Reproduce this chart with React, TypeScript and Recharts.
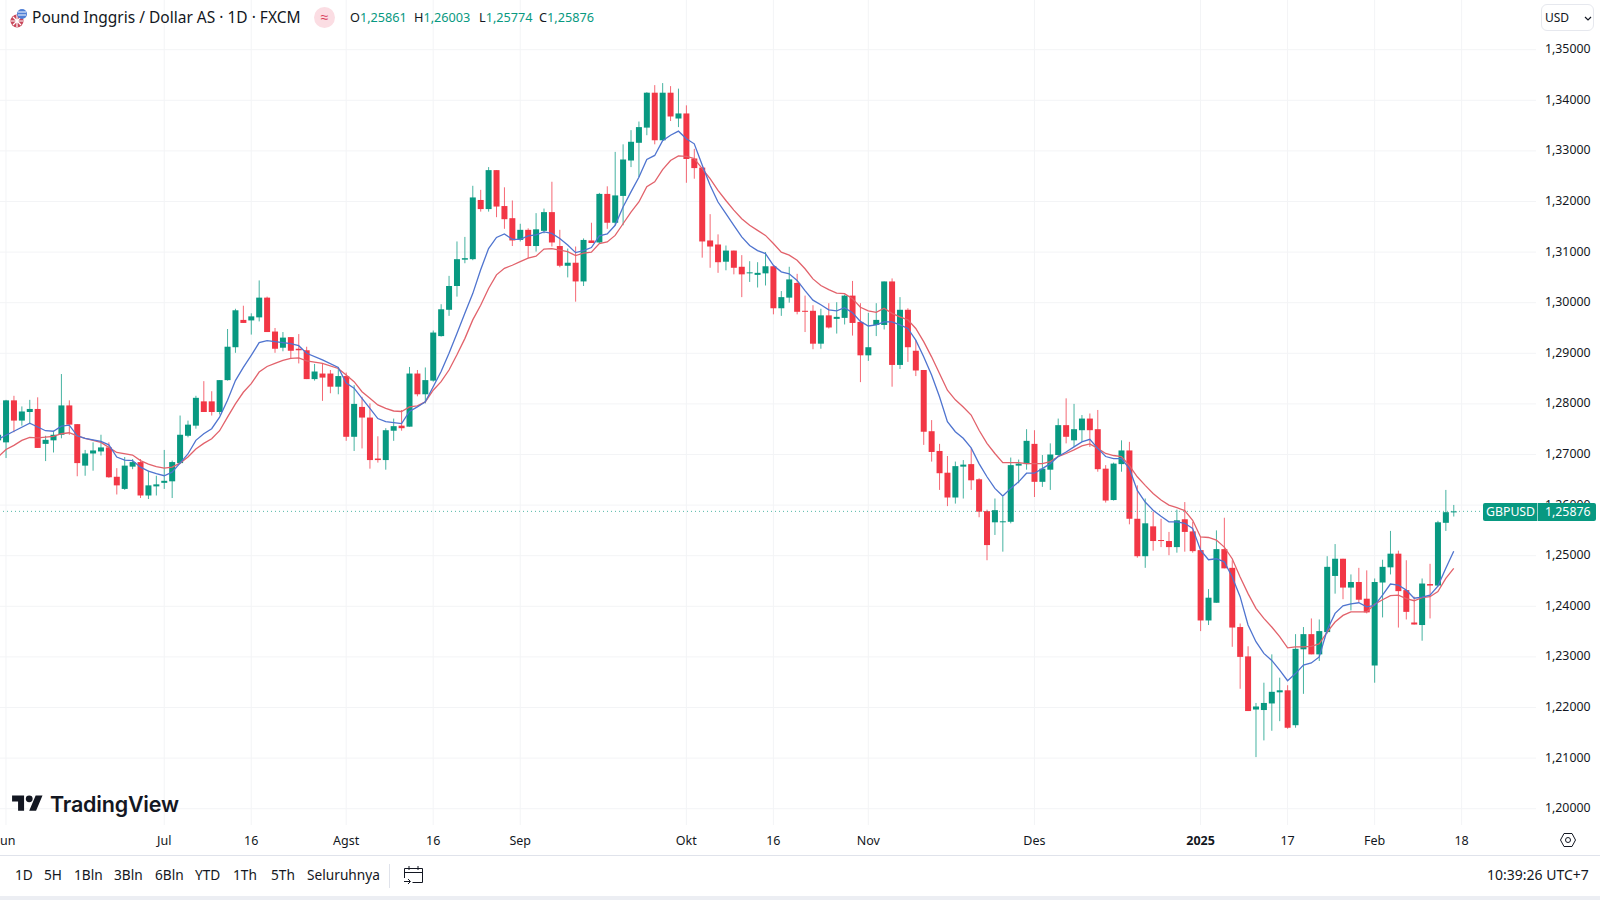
import { Bar, CartesianGrid, ComposedChart, Line, ReferenceLine, XAxis, YAxis } from "recharts";

const UP = "#089981";
const DOWN = "#F23645";
const FONT = "'Noto Sans', sans-serif";
const TEXT = "#131722";

const firstIndex = -1;

const opens = [
  1.2728,
  1.2724, 1.2807, 1.2767, 1.2784, 1.279, 1.2721, 1.2728, 1.2739, 1.2797, 1.276,
  1.2678, 1.2702, 1.2706, 1.2714, 1.2656, 1.2632, 1.2676, 1.2685, 1.2619, 1.2637,
  1.2644, 1.2647, 1.2683, 1.2737, 1.2757, 1.2805, 1.2805, 1.2784, 1.2847, 1.2912,
  1.2966, 1.2965, 1.2971, 1.301, 1.2943, 1.2911, 1.2932, 1.2909, 1.2906, 1.2849,
  1.286, 1.286, 1.2834, 1.2855, 1.2735, 1.2794, 1.2773, 1.2692, 1.2689, 1.2747,
  1.2757, 1.2755, 1.286, 1.2819, 1.2846, 1.2934, 1.2986, 1.3033, 1.3085, 1.3086,
  1.3203, 1.3185, 1.3262, 1.3191, 1.3167, 1.3124, 1.3144, 1.3112, 1.3142, 1.3179,
  1.3112, 1.3073, 1.3079, 1.3042, 1.3123, 1.3119, 1.3215, 1.3158, 1.3211, 1.3281,
  1.3316, 1.3346, 1.3415, 1.3321, 1.3415, 1.3364, 1.3374, 1.3285, 1.3267, 1.3123,
  1.3115, 1.3081, 1.3103, 1.3071, 1.3058, 1.3055, 1.3058, 1.3072, 1.2989, 1.301,
  1.3039, 1.2984, 1.2984, 1.2919, 1.2975, 1.2968, 1.297, 1.3014, 1.2962, 1.2896,
  1.2956, 1.2956, 1.3042, 1.2877, 1.2986, 1.2905, 1.2867, 1.2746, 1.2707, 1.2664,
  1.2615, 1.2676, 1.2681, 1.2651, 1.2588, 1.2566, 1.2567, 1.2567, 1.2678, 1.2681,
  1.2721, 1.2646, 1.267, 1.2699, 1.2758, 1.2728, 1.2748, 1.2771, 1.275, 1.2672,
  1.261, 1.2681, 1.2708, 1.2573, 1.2499, 1.2558, 1.2531, 1.2529, 1.2517, 1.2572,
  1.2548, 1.2511, 1.2372, 1.2407, 1.2513, 1.2476, 1.2359, 1.2301, 1.2196, 1.2195,
  1.2208, 1.223, 1.2234, 1.2165, 1.2315, 1.2345, 1.2305, 1.2349, 1.246, 1.2494,
  1.2437, 1.2448, 1.2415, 1.2283, 1.2447, 1.2477, 1.2504, 1.2432, 1.2368, 1.2363,
  1.2444, 1.2441, 1.2565, 1.25861,
];

const highs = [
  1.2751,
  1.2808, 1.2816, 1.2795, 1.2808, 1.2813, 1.2737, 1.2747, 1.2859, 1.2807, 1.276,
  1.2709, 1.2724, 1.2739, 1.2724, 1.2673, 1.2695, 1.2691, 1.2691, 1.2668, 1.2658,
  1.2709, 1.2688, 1.2777, 1.2767, 1.2816, 1.2845, 1.2825, 1.2847, 1.2948, 1.2988,
  1.2994, 1.2979, 1.3044, 1.3012, 1.295, 1.2942, 1.2932, 1.2938, 1.2913, 1.2879,
  1.288, 1.2867, 1.2873, 1.2862, 1.2837, 1.2814, 1.2801, 1.2736, 1.2752, 1.2771,
  1.2788, 1.2873, 1.2867, 1.2872, 1.2945, 1.2997, 1.3053, 1.3121, 1.313, 1.3231,
  1.3223, 1.3268, 1.3262, 1.3228, 1.3202, 1.3156, 1.3147, 1.3177, 1.3186, 1.3239,
  1.3144, 1.3107, 1.3111, 1.3127, 1.3158, 1.3217, 1.323, 1.3298, 1.3313, 1.3341,
  1.3358, 1.3416, 1.343, 1.3434, 1.3428, 1.3423, 1.339, 1.3304, 1.3268, 1.3175,
  1.3135, 1.3113, 1.3103, 1.3094, 1.3082, 1.308, 1.31, 1.3073, 1.3023, 1.3071,
  1.3057, 1.3014, 1.2995, 1.2988, 1.2999, 1.3001, 1.3016, 1.3043, 1.2999, 1.298,
  1.2999, 1.3042, 1.3048, 1.3011, 1.2989, 1.2926, 1.2867, 1.2768, 1.2721, 1.2697,
  1.2686, 1.2689, 1.2712, 1.2653, 1.2591, 1.2613, 1.2616, 1.2694, 1.269, 1.275,
  1.2748, 1.2699, 1.2722, 1.2771, 1.2811, 1.28, 1.2778, 1.2781, 1.2788, 1.2679,
  1.2684, 1.2728, 1.2725, 1.2639, 1.2613, 1.2587, 1.2573, 1.2547, 1.2591, 1.2606,
  1.2567, 1.2537, 1.2434, 1.255, 1.2575, 1.2491, 1.2366, 1.2321, 1.2209, 1.2249,
  1.2305, 1.2259, 1.2244, 1.2345, 1.2359, 1.2376, 1.2374, 1.2499, 1.2523, 1.2494,
  1.2463, 1.2476, 1.2471, 1.2455, 1.2492, 1.2549, 1.251, 1.2491, 1.2419, 1.2455,
  1.2484, 1.2569, 1.263, 1.26003,
];

const lows = [
  1.2714,
  1.2693, 1.2744, 1.2757, 1.276, 1.2713, 1.2687, 1.2704, 1.2732, 1.2739, 1.2657,
  1.2658, 1.2668, 1.2698, 1.2654, 1.2621, 1.263, 1.2671, 1.2614, 1.2612, 1.2619,
  1.2632, 1.2614, 1.2681, 1.2734, 1.2751, 1.2784, 1.2777, 1.2779, 1.2846, 1.2901,
  1.296, 1.2937, 1.2963, 1.2942, 1.2901, 1.2904, 1.2889, 1.288, 1.2849, 1.2846,
  1.2806, 1.2821, 1.2819, 1.2727, 1.2707, 1.2712, 1.2672, 1.2684, 1.267, 1.2727,
  1.2747, 1.2755, 1.2815, 1.2801, 1.2844, 1.2933, 1.2974, 1.3012, 1.3078, 1.3084,
  1.318, 1.318, 1.3169, 1.3146, 1.3112, 1.3121, 1.3088, 1.3101, 1.3137, 1.3111,
  1.307, 1.305, 1.3002, 1.3033, 1.3118, 1.3117, 1.3146, 1.3153, 1.3153, 1.3268,
  1.3248, 1.3331, 1.3313, 1.332, 1.3359, 1.3347, 1.3237, 1.3245, 1.3089, 1.3069,
  1.3059, 1.3064, 1.3056, 1.3011, 1.3041, 1.303, 1.3034, 1.2977, 1.2974, 1.3,
  1.2977, 1.2942, 1.2908, 1.2909, 1.2949, 1.2939, 1.2957, 1.2935, 1.2843, 1.2885,
  1.2934, 1.2947, 1.2834, 1.2869, 1.2883, 1.2855, 1.2719, 1.2686, 1.263, 1.2598,
  1.2603, 1.2613, 1.263, 1.2576, 1.2491, 1.2541, 1.2508, 1.2564, 1.2643, 1.267,
  1.2616, 1.2636, 1.263, 1.2696, 1.2722, 1.2715, 1.2725, 1.2715, 1.2666, 1.2605,
  1.2609, 1.2666, 1.2562, 1.2496, 1.2476, 1.251, 1.2517, 1.2501, 1.2506, 1.2508,
  1.2506, 1.2351, 1.2363, 1.2407, 1.2475, 1.232, 1.2237, 1.2193, 1.2102, 1.2135,
  1.2154, 1.2173, 1.2158, 1.216, 1.2227, 1.2305, 1.2292, 1.2346, 1.2425, 1.2414,
  1.2392, 1.2407, 1.2386, 1.2249, 1.2378, 1.2463, 1.2358, 1.2374, 1.2364, 1.2332,
  1.2376, 1.2439, 1.2549, 1.25774,
];

const closes = [
  1.2739,
  1.2807, 1.2767, 1.2785, 1.279, 1.2713, 1.2729, 1.2739, 1.2797, 1.2759, 1.2683,
  1.2702, 1.2708, 1.2714, 1.2655, 1.2639, 1.2678, 1.2685, 1.2619, 1.2639, 1.2641,
  1.2648, 1.2685, 1.2739, 1.2759, 1.2812, 1.2784, 1.2784, 1.2847, 1.2913, 1.2985,
  1.296, 1.2973, 1.301, 1.2942, 1.2909, 1.2931, 1.2905, 1.2906, 1.2849, 1.2864,
  1.2852, 1.2834, 1.2855, 1.2735, 1.28, 1.2773, 1.2689, 1.2689, 1.2748, 1.2756,
  1.2752, 1.286, 1.2819, 1.2847, 1.2941, 1.2987, 1.3033, 1.3086, 1.3088, 1.3208,
  1.3185, 1.3262, 1.319, 1.3165, 1.3123, 1.3144, 1.3112, 1.3145, 1.3179, 1.3119,
  1.3073, 1.3079, 1.3042, 1.3124, 1.3118, 1.3215, 1.3158, 1.3212, 1.3283, 1.3318,
  1.3347, 1.3415, 1.3321, 1.3415, 1.3368, 1.3374, 1.3284, 1.3266, 1.3121, 1.3111,
  1.308, 1.3103, 1.3069, 1.3056, 1.306, 1.3059, 1.3072, 1.2989, 1.3011, 1.3046,
  1.2982, 1.2982, 1.2919, 1.2975, 1.2951, 1.2972, 1.3014, 1.296, 1.2896, 1.2912,
  1.2966, 1.3042, 1.2877, 1.2986, 1.2912, 1.2866, 1.2745, 1.2705, 1.2663, 1.2615,
  1.2677, 1.268, 1.2649, 1.2587, 1.2521, 1.259, 1.2568, 1.2679, 1.2682, 1.2727,
  1.2646, 1.2672, 1.27, 1.2758, 1.2735, 1.275, 1.2771, 1.2748, 1.2671, 1.2609,
  1.2682, 1.2708, 1.2573, 1.2499, 1.2564, 1.2529, 1.2529, 1.2517, 1.257, 1.2547,
  1.2509, 1.2372, 1.2417, 1.2513, 1.2475, 1.2358, 1.23, 1.2193, 1.2202, 1.2209,
  1.2231, 1.2234, 1.216, 1.2316, 1.2345, 1.2305, 1.2351, 1.2478, 1.2494, 1.2437,
  1.2448, 1.2413, 1.2388, 1.2448, 1.2478, 1.2504, 1.243, 1.2389, 1.2364, 1.2445,
  1.2441, 1.2566, 1.2586, 1.25876,
];

// blue and red averages, read as [candle index, price]
const fastAverage = [
  [-1, 1.273], [1, 1.2746], [3, 1.2762], [5, 1.2747], [6, 1.2746], [7, 1.2756], [8, 1.2758], [9, 1.2737], [10, 1.2732], [12, 1.2726],
  [13, 1.2719], [14, 1.2695], [15, 1.2689], [16, 1.2688], [17, 1.2675], [18, 1.2667], [19, 1.2662], [20, 1.2658], [21, 1.2665], [22, 1.2683],
  [23, 1.2701], [24, 1.2728], [25, 1.2741], [26, 1.2751], [27, 1.2774], [28, 1.2807], [29, 1.2846], [30, 1.2872], [31, 1.2896], [32, 1.2921],
  [33, 1.2925], [34, 1.2923], [35, 1.2921], [36, 1.2919], [37, 1.2915], [38, 1.29], [40, 1.2887], [42, 1.2872], [43, 1.2841], [44, 1.2831],
  [45, 1.2811], [46, 1.2791], [47, 1.2771], [48, 1.2765], [49, 1.2763], [50, 1.2761], [51, 1.2785], [52, 1.2794], [53, 1.2804], [54, 1.2834],
  [55, 1.2864], [56, 1.29], [57, 1.2939], [58, 1.2979], [59, 1.3018], [60, 1.3065], [61, 1.3107], [62, 1.3129], [63, 1.3136], [64, 1.3125],
  [65, 1.3125], [66, 1.3132], [67, 1.3134], [68, 1.314], [69, 1.3137], [70, 1.3127], [71, 1.3114], [72, 1.3099], [73, 1.3103], [74, 1.3109],
  [75, 1.3132], [76, 1.3136], [77, 1.3153], [78, 1.3189], [79, 1.3219], [80, 1.3248], [81, 1.3283], [82, 1.3291], [83, 1.332], [84, 1.3331],
  [85, 1.3339], [86, 1.3324], [87, 1.3314], [88, 1.3272], [89, 1.3232], [90, 1.3199], [91, 1.3176], [92, 1.3153], [93, 1.313], [94, 1.3113],
  [95, 1.3103], [96, 1.3097], [97, 1.3074], [98, 1.3061], [99, 1.3057], [100, 1.3044], [101, 1.3024], [102, 1.3005], [103, 1.2996], [104, 1.2986],
  [105, 1.2984], [106, 1.299], [107, 1.298], [108, 1.2963], [109, 1.2954], [110, 1.2956], [111, 1.2962], [112, 1.2962], [113, 1.2956], [114, 1.2949],
  [115, 1.2926], [116, 1.2893], [117, 1.2857], [118, 1.2814], [119, 1.2765], [120, 1.2745], [121, 1.2732], [122, 1.2713], [123, 1.2682], [124, 1.2656],
  [125, 1.2633], [126, 1.2618], [127, 1.2633], [128, 1.2646], [129, 1.2663], [130, 1.2663], [131, 1.2672], [132, 1.2682], [133, 1.2696], [134, 1.2705],
  [135, 1.2715], [136, 1.2725], [137, 1.273], [138, 1.2712], [139, 1.2696], [140, 1.2692], [141, 1.2692], [142, 1.2672], [143, 1.2629], [144, 1.2606],
  [145, 1.259], [146, 1.2578], [147, 1.2567], [148, 1.2567], [149, 1.2564], [150, 1.2554], [151, 1.2511], [152, 1.2492], [153, 1.2494], [154, 1.2488],
  [155, 1.2458], [156, 1.2419], [157, 1.2363], [158, 1.233], [159, 1.2307], [160, 1.2293], [161, 1.2274], [162, 1.2253], [163, 1.2267], [164, 1.2284],
  [165, 1.2288], [166, 1.23], [167, 1.2353], [168, 1.2386], [169, 1.2401], [170, 1.2405], [171, 1.2407], [172, 1.2399], [173, 1.2402], [174, 1.2422],
  [175, 1.2444], [176, 1.2442], [177, 1.2432], [178, 1.2416], [179, 1.2418], [180, 1.2422], [181, 1.244], [182, 1.2475], [183, 1.2509],
];

const slowAverage = [
  [-1, 1.2695], [0, 1.271], [1, 1.2718], [2, 1.2728], [3, 1.2734], [4, 1.2733], [6, 1.2736], [7, 1.2741], [8, 1.2743], [9, 1.2737],
  [10, 1.2732], [12, 1.2724], [13, 1.2714], [14, 1.2704], [16, 1.2699], [17, 1.2688], [18, 1.2681], [19, 1.2676], [20, 1.2673], [21, 1.2675],
  [22, 1.2683], [23, 1.2695], [24, 1.2711], [25, 1.2722], [26, 1.2731], [27, 1.2747], [28, 1.2774], [29, 1.28], [30, 1.2823], [31, 1.284],
  [32, 1.2863], [33, 1.2874], [34, 1.288], [35, 1.2886], [36, 1.289], [37, 1.2891], [38, 1.2885], [40, 1.288], [42, 1.287], [43, 1.2857],
  [44, 1.2844], [45, 1.2824], [46, 1.2811], [47, 1.2798], [48, 1.2791], [49, 1.2786], [50, 1.2785], [51, 1.2794], [52, 1.2796], [53, 1.2804],
  [54, 1.2827], [55, 1.2844], [56, 1.2867], [57, 1.2897], [58, 1.2929], [59, 1.2966], [60, 1.2995], [61, 1.3028], [62, 1.3055], [63, 1.3068],
  [64, 1.3074], [65, 1.3081], [66, 1.3088], [67, 1.3092], [68, 1.3106], [69, 1.3107], [70, 1.3104], [71, 1.3101], [72, 1.3093], [73, 1.3098],
  [74, 1.31], [75, 1.3117], [76, 1.312], [77, 1.3133], [78, 1.3156], [79, 1.3179], [80, 1.3199], [81, 1.3229], [82, 1.3239], [83, 1.3263],
  [84, 1.3281], [85, 1.329], [86, 1.3289], [87, 1.3285], [88, 1.3265], [89, 1.3245], [90, 1.3222], [91, 1.3202], [92, 1.3183], [93, 1.3166],
  [94, 1.3153], [95, 1.3143], [96, 1.3133], [97, 1.3117], [98, 1.31], [99, 1.3094], [100, 1.3084], [101, 1.3067], [102, 1.3047], [103, 1.3034],
  [104, 1.3026], [105, 1.3019], [106, 1.3018], [107, 1.3008], [108, 1.2991], [109, 1.2984], [110, 1.2981], [111, 1.2989], [112, 1.2979], [113, 1.2972],
  [114, 1.2966], [115, 1.2949], [116, 1.2923], [117, 1.2893], [118, 1.286], [119, 1.2827], [120, 1.2808], [121, 1.2794], [122, 1.2778], [123, 1.2748],
  [124, 1.2722], [125, 1.2702], [126, 1.2684], [127, 1.2684], [128, 1.2684], [129, 1.2682], [130, 1.2682], [131, 1.2682], [132, 1.2686], [133, 1.2696],
  [134, 1.2702], [135, 1.2709], [136, 1.2717], [137, 1.2721], [138, 1.2712], [139, 1.2702], [140, 1.2698], [141, 1.2696], [142, 1.2678], [143, 1.2656],
  [144, 1.2639], [145, 1.2623], [146, 1.261], [147, 1.26], [148, 1.2595], [149, 1.2589], [150, 1.257], [151, 1.2537], [152, 1.2536], [153, 1.2531],
  [154, 1.2517], [155, 1.2494], [156, 1.2458], [157, 1.2425], [158, 1.2396], [159, 1.2376], [160, 1.2359], [161, 1.234], [162, 1.2318], [163, 1.232],
  [164, 1.232], [165, 1.2321], [166, 1.2326], [167, 1.2349], [168, 1.2369], [169, 1.2382], [170, 1.2389], [171, 1.2389], [172, 1.2389], [173, 1.2404],
  [174, 1.2413], [175, 1.2421], [176, 1.2422], [177, 1.2415], [178, 1.2411], [179, 1.2417], [180, 1.2419], [181, 1.2429], [182, 1.2455], [183, 1.2475],
];

const priceTicks = [1.2, 1.21, 1.22, 1.23, 1.24, 1.25, 1.26, 1.27, 1.28, 1.29, 1.3, 1.31, 1.32, 1.33, 1.34, 1.35];
const timeTicks = [0, 20, 31, 43, 54, 65, 86, 97, 109, 130, 151, 162, 173, 184];
const timeLabels = ["Jun", "Jul", "16", "Agst", "16", "Sep", "Okt", "16", "Nov", "Des", "2025", "17", "Feb", "18"];
const rangeButtons = ["1D", "5H", "1Bln", "3Bln", "6Bln", "YTD", "1Th", "5Th", "Seluruhnya"];
const rangeButtonX = [15, 44, 74, 114, 155, 195, 233, 271, 307];

const lastClose = 1.25876;

const fastByIndex = new Map(fastAverage.map(([i, v]) => [i, v]));
const slowByIndex = new Map(slowAverage.map(([i, v]) => [i, v]));

const chartData = opens.map((open, n) => {
  const i = firstIndex + n;
  return {
    i,
    open,
    close: closes[n],
    high: highs[n],
    low: lows[n],
    range: [lows[n], highs[n]],
    fast: fastByIndex.get(i) ?? null,
    slow: slowByIndex.get(i) ?? null,
  };
});

function Candle(props: any) {
  const { x, y, width, height, payload } = props;
  const { open, close, high, low } = payload;
  const color = close >= open ? UP : DOWN;
  const perUnit = height / (high - low);
  const yOpen = y + (high - open) * perUnit;
  const yClose = y + (high - close) * perUnit;
  const top = Math.min(yOpen, yClose);
  const bodyHeight = Math.max(Math.abs(yOpen - yClose), 1);
  const cx = x + width / 2;
  return (
    <g>
      <line x1={cx} x2={cx} y1={y} y2={y + height} stroke={color} strokeOpacity={0.75} strokeWidth={1} />
      <rect x={x} y={top} width={width} height={bodyHeight} fill={color} />
    </g>
  );
}

function TimeTick(props: any) {
  const { x, y, payload } = props;
  const label = timeLabels[timeTicks.indexOf(payload.value)];
  const bold = label === "2025";
  return (
    <text x={x} y={y} textAnchor="middle" fontFamily={FONT} fontSize={12.5} fontWeight={bold ? 700 : 400} fill={TEXT}>
      {label}
    </text>
  );
}

function PriceTick(props: any) {
  const { x, y, payload } = props;
  return (
    <text x={x} y={y + 3.5} fontFamily={FONT} fontSize={12.3} fill={TEXT}>
      {payload.value.toFixed(5).replace(".", ",")}
    </text>
  );
}

function Label({ x, y, size = 13.7, color = TEXT, weight = 400, children }: any) {
  return (
    <div
      style={{
        position: "absolute",
        left: x,
        top: y,
        fontFamily: FONT,
        fontSize: size,
        fontWeight: weight,
        color,
        lineHeight: "18px",
        whiteSpace: "nowrap",
      }}
    >
      {children}
    </div>
  );
}

function Ohlc({ x, name, value }: any) {
  return (
    <Label x={x} y={8} size={12.7}>
      {name}
      <span style={{ color: UP }}>{value}</span>
    </Label>
  );
}

export default function App() {
  return (
    <div style={{ position: "absolute", left: 0, top: 0, width: 1600, height: 900, background: "#fff", overflow: "hidden" }}>
      <ComposedChart width={1600} height={855} data={chartData} margin={{ top: 0, right: 0, bottom: 0, left: 0 }}>
        <CartesianGrid stroke="#f3f4f6" syncWithTicks />
        <XAxis
          dataKey="i"
          type="number"
          domain={[-0.758, 193.4]}
          allowDataOverflow
          ticks={timeTicks}
          interval={0}
          height={30}
          axisLine={false}
          tickLine={false}
          tickMargin={14}
          tick={<TimeTick />}
        />
        <YAxis
          orientation="right"
          type="number"
          domain={[1.19678, 1.35982]}
          allowDataOverflow
          ticks={priceTicks}
          interval={0}
          width={64}
          axisLine={false}
          tickLine={false}
          tickMargin={3}
          tick={<PriceTick />}
        />
        <ReferenceLine y={lastClose} stroke={UP} strokeOpacity={0.7} strokeDasharray="1 3" />
        <Bar dataKey="range" barSize={6} shape={<Candle />} isAnimationActive={false} />
        <Line dataKey="slow" stroke="#e2626b" strokeWidth={1.3} dot={false} connectNulls isAnimationActive={false} />
        <Line dataKey="fast" stroke="#4f74cf" strokeWidth={1.3} dot={false} connectNulls isAnimationActive={false} />
      </ComposedChart>

      {/* header */}
      <svg style={{ position: "absolute", left: 9, top: 8 }} width={20} height={20}>
        <circle cx={8} cy={13} r={6.5} fill="#c8475a" />
        <path d="M2 13h12M8 7v12M4 9l8 8M12 9l-8 8" stroke="#fff" strokeWidth={1.2} />
        <circle cx={13} cy={6} r={5} fill="#4f7fd6" />
        <path d="M9 4h8M9 7h8" stroke="#fff" strokeWidth={1} />
      </svg>
      <Label x={32} y={8} size={15.5}>Pound Inggris / Dollar AS · 1D · FXCM</Label>
      <div style={{ position: "absolute", left: 314, top: 7, width: 21, height: 21, borderRadius: 11, background: "#fbdde3", color: "#d8405a", fontFamily: FONT, fontSize: 14, lineHeight: "20px", textAlign: "center" }}>≈</div>
      <Ohlc x={350} name="O" value="1,25861" />
      <Ohlc x={414} name="H" value="1,26003" />
      <Ohlc x={479} name="L" value="1,25774" />
      <Ohlc x={539} name="C" value="1,25876" />
      <div style={{ position: "absolute", left: 1541, top: 4, width: 53, height: 27, boxSizing: "border-box", border: "1px solid #e6e8ee", borderRadius: 6, background: "#fff", fontFamily: FONT, fontSize: 12, lineHeight: "25px", paddingLeft: 3, color: TEXT }}>
        USD
        <svg style={{ position: "absolute", left: 42, top: 11 }} width={8} height={6}>
          <path d="M1 1l3 3 3-3" fill="none" stroke={TEXT} strokeWidth={1.2} />
        </svg>
      </div>

      {/* last price tag */}
      <div style={{ position: "absolute", left: 1483, top: 503, width: 113, height: 18, borderRadius: 2, background: UP, color: "#fff", fontFamily: FONT, fontSize: 12.3, lineHeight: "18px" }}>
        <span style={{ position: "absolute", left: 3 }}>GBPUSD</span>
        <span style={{ position: "absolute", left: 54, top: 0, width: 1, height: 18, background: "#ffffff99" }} />
        <span style={{ position: "absolute", left: 62 }}>1,25876</span>
      </div>

      {/* watermark */}
      <svg style={{ position: "absolute", left: 12, top: 792 }} width={31} height={24} viewBox="0 0 36 28" fill="#131722">
        <path d="M14 22H7V11H0V4h14v18zM28 22h-8l7.5-18h8L28 22z" />
        <circle cx={20} cy={8} r={4} />
      </svg>
      <div style={{ position: "absolute", left: 50, top: 789, fontFamily: "Inter, sans-serif", fontSize: 21.5, fontWeight: 600, color: "#131722", lineHeight: "30px", letterSpacing: -0.2 }}>TradingView</div>

      {/* bottom bar */}
      <div style={{ position: "absolute", left: 0, top: 855, width: 1600, height: 1, background: "#e0e3eb" }} />
      {rangeButtons.map((b, n) => (
        <Label key={b} x={rangeButtonX[n]} y={866}>{b}</Label>
      ))}
      <div style={{ position: "absolute", left: 389, top: 864, width: 1, height: 24, background: "#e0e3eb" }} />
      <svg style={{ position: "absolute", left: 403, top: 865 }} width={21} height={20} fill="none" stroke="#131722" strokeWidth={1}>
        <path d="M1.5 13V3.5h18v14h-10M1.5 7.5h18M6 1v4M15 1v4M1 16.5h6M5 14l2.5 2.5L5 19" />
      </svg>
      <Label x={1487} y={866} size={14}>10:39:26 UTC+7</Label>
      <svg style={{ position: "absolute", left: 1560, top: 832 }} width={16} height={16} fill="none" stroke="#131722" strokeWidth={1}>
        <path d="M4 1.5h8L15.5 8 12 14.5H4L.5 8z" />
        <circle cx={8} cy={8} r={2.5} />
      </svg>
      <div style={{ position: "absolute", left: 0, top: 896, width: 1600, height: 4, background: "#eceef3" }} />
    </div>
  );
}
